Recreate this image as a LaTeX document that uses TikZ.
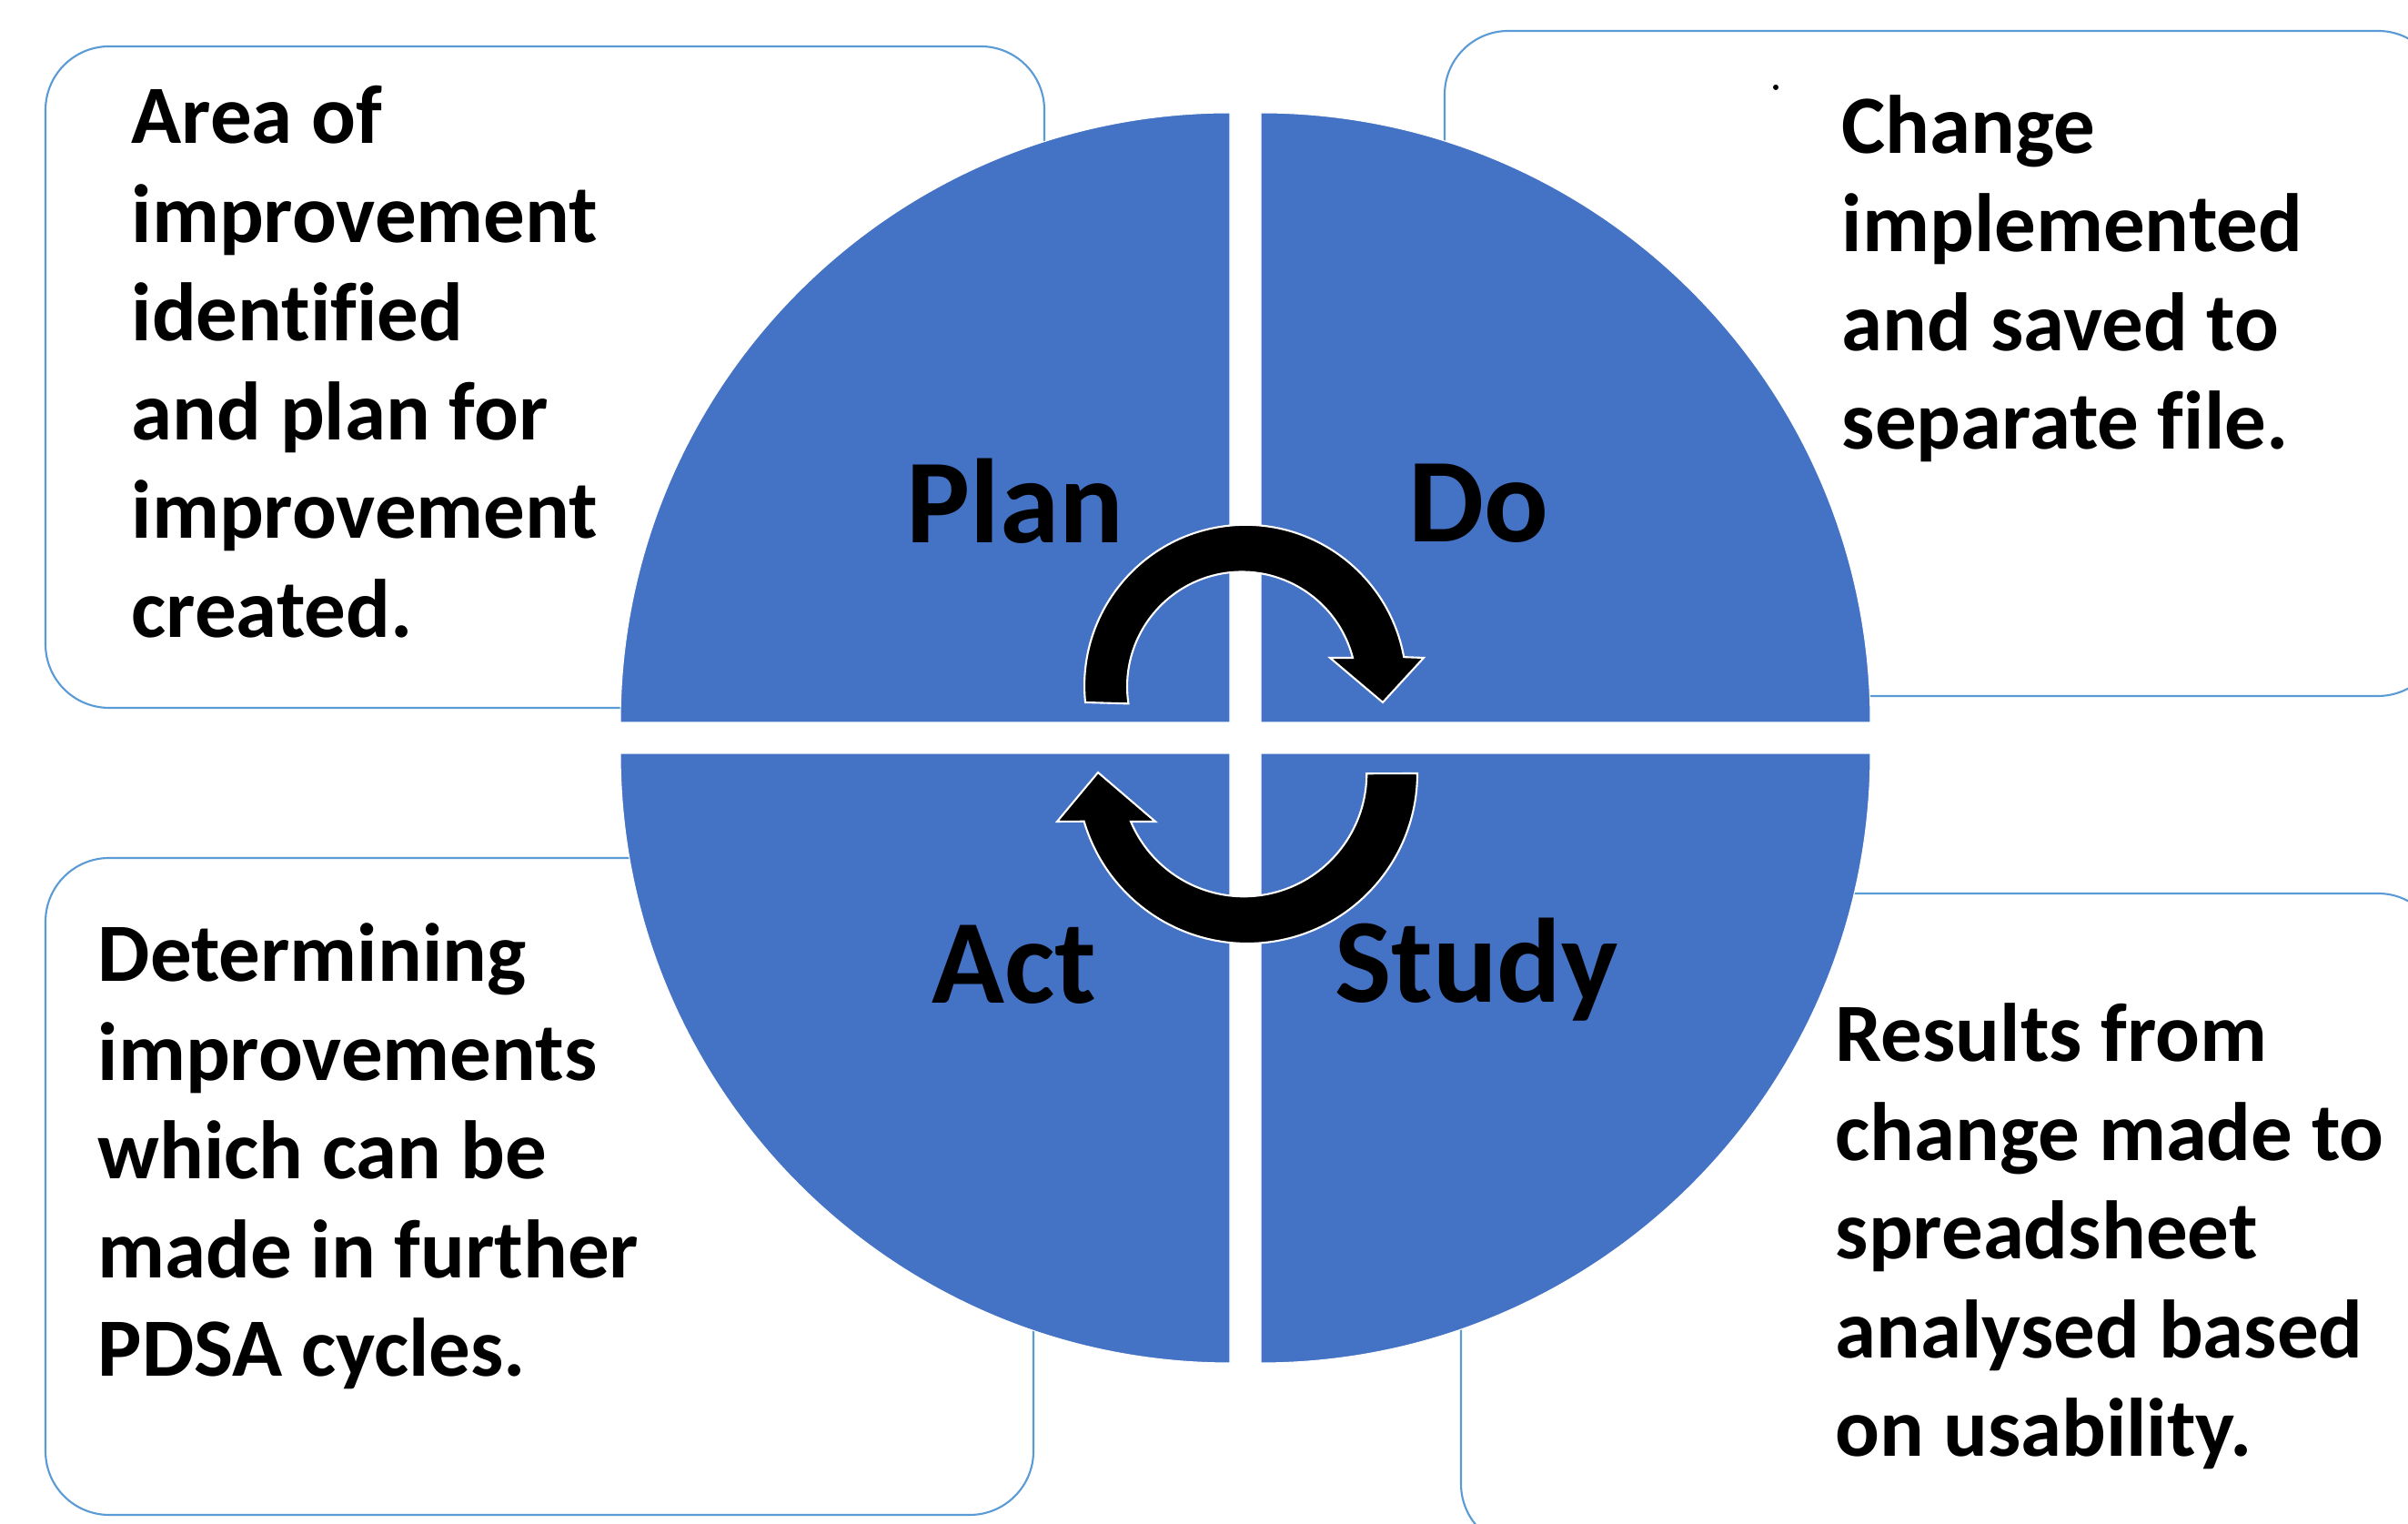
\documentclass[tikz,border=0pt]{standalone}
\usepackage{fontspec}
\setmainfont{Carlito}[Ligatures=NoCommon]
\usetikzlibrary{calc}
\definecolor{quad}{RGB}{68,114,196}
\definecolor{boxline}{RGB}{91,155,213}
\begin{document}
\begin{tikzpicture}[
  infobox/.style={draw=boxline, line width=0.6pt, rounded corners=0.7cm, fill=white, inner sep=0pt},
  quadrant/.style={fill=quad, draw=white, line width=0.3pt},
  cyclearrow/.style={fill=black, draw=white, line width=0.6pt, line join=miter},
  bodytext/.style={anchor=base west, align=left, inner sep=0pt, font=\bfseries\fontsize{25.9}{30.9}\selectfont},
  phase/.style={anchor=base, inner sep=0pt, font=\bfseries\fontsize{37.5}{45}\selectfont}
]
\useasboundingbox (0,0) rectangle (26.47,16.75);
\fill[white] (0,0) rectangle (26.47,16.75);
\begin{scope}
\clip (0,0) rectangle (26.47,16.75);
% text boxes
\node[infobox, minimum width=10.98cm, minimum height=7.27cm] (boxplan) at (5.99,12.605) {};
\node[infobox, minimum width=10.96cm, minimum height=7.31cm] (boxdo) at (21.36,12.755) {};
\node[infobox, minimum width=10.86cm, minimum height=7.22cm] (boxact) at (5.93,3.71) {};
\node[infobox, minimum width=10.78cm, minimum height=7.19cm] (boxstudy) at (21.45,3.335) {};
% quadrants
\filldraw[quadrant] (13.52,8.81) -- (6.82,8.81) arc (180:90:6.70) -- cycle;
\filldraw[quadrant] (13.86,8.81) -- (13.86,15.51) arc (90:0:6.70) -- cycle;
\filldraw[quadrant] (13.52,8.47) -- (6.82,8.47) arc (180:270:6.70) -- cycle;
\filldraw[quadrant] (13.86,8.47) -- (20.56,8.47) arc (0:-90:6.70) -- cycle;
% cycle arrows
\filldraw[cyclearrow] (11.93,9.03) arc (185.9:10.3:1.77) -- (15.65,9.52) -- (15.20,9.03) -- (14.62,9.52) -- (14.87,9.52) arc (14.5:188.6:1.26) -- cycle;
\filldraw[cyclearrow] (15.58,8.25) arc (0:-163.6:1.87) -- (11.62,7.72) -- (12.07,8.26) -- (12.70,7.72) -- (12.43,7.72) arc (203:360:1.35) -- cycle;
% phase labels
\node[phase] (plan) at (11.16,10.78) {Plan};
\node[phase] (do) at (16.25,10.79) {Do};
\node[phase] (act) at (11.15,5.72) {Act};
\node[phase] (study) at (16.23,5.73) {Study};
% body texts (base anchor = baseline of last line)
\node[bodytext] (tplan) at (1.44,9.745) {Area of\\improvement\\identified\\and plan for\\improvement\\created.};
\node[bodytext] (tdo) at (20.24,11.81) {Change\\implemented\\and saved to\\separate file.};
\node[bodytext] (tact) at (1.07,1.62) {Determining\\improvements\\which can be\\made in further\\PDSA cycles.};
\node[bodytext] (tstudy) at (20.17,0.74) {Results from\\change made to\\spreadsheet\\analysed based\\on usability.};
\fill (19.52,15.79) circle (0.03);
\end{scope}
\end{tikzpicture}
\end{document}
